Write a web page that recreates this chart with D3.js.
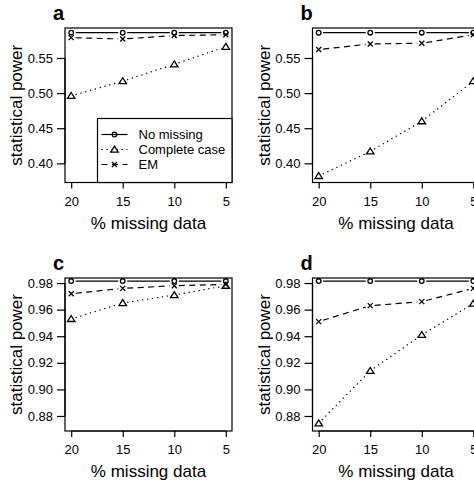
<!DOCTYPE html>
<html><head><meta charset="utf-8">
<script src="https://cdn.jsdelivr.net/npm/d3@7"></script>
<style>body{margin:0;background:#fff}svg{display:block}text{font-family:"Liberation Sans",Arial,Helvetica,sans-serif;fill:#000}</style>
</head><body>
<script>
const missing = [20, 15, 10, 5];
const seriesNames = ["No missing", "Complete case", "EM"];
const panelLabels = ["a", "b", "c", "d"];
const noMissA = [0.586, 0.586, 0.586, 0.586];
const ccA = [0.496, 0.517, 0.541, 0.566];
const emA = [0.579, 0.577, 0.582, 0.583];
const noMissB = [0.586, 0.586, 0.586, 0.586];
const ccB = [0.382, 0.417, 0.460, 0.517];
const emB = [0.562, 0.570, 0.571, 0.583];
const noMissC = [0.9815, 0.9815, 0.9815, 0.9815];
const ccC = [0.953, 0.965, 0.971, 0.978];
const emC = [0.972, 0.976, 0.978, 0.979];
const noMissD = [0.9815, 0.9815, 0.9815, 0.9815];
const ccD = [0.8745, 0.914, 0.941, 0.9645];
const emD = [0.951, 0.963, 0.966, 0.976];
const yTicksTop = [0.40, 0.45, 0.50, 0.55];
const yTicksBottom = [0.88, 0.90, 0.92, 0.94, 0.96, 0.98];
const yDomTop = [0.3727, 0.5927];
const yDomBottom = [0.8687, 0.9838];

const W = 474, H = 481;
const svg = d3.select("body").append("svg").attr("width", W).attr("height", H);

const panels = [
  {label: panelLabels[0], x0: 65, y0: 28, y1: 182.5, nm: noMissA, cc: ccA, em: emA, ticks: yTicksTop, dom: yDomTop, tOff: 46, legend: true},
  {label: panelLabels[1], x0: 312.5, y0: 28, y1: 182.5, nm: noMissB, cc: ccB, em: emB, ticks: yTicksTop, dom: yDomTop, tOff: 46},
  {label: panelLabels[2], x0: 65, y0: 278, y1: 431, nm: noMissC, cc: ccC, em: emC, ticks: yTicksBottom, dom: yDomBottom, tOff: 46},
  {label: panelLabels[3], x0: 312.5, y0: 278, y1: 431, nm: noMissD, cc: ccD, em: emD, ticks: yTicksBottom, dom: yDomBottom, tOff: 46}
];
const PW = 167;
const styles = [
  {dash: null, mark: "circle"},
  {dash: "1.3,3.7", mark: "triangle"},
  {dash: "6,4.5", mark: "x"}
];

function drawMarker(g, type, cx, cy) {
  if (type === "circle") {
    g.append("circle").attr("cx", cx).attr("cy", cy).attr("r", 2.3)
      .attr("fill", "none").attr("stroke", "#000").attr("stroke-width", 1.3);
  } else if (type === "triangle") {
    const s = 3.4;
    g.append("path").attr("d", `M${cx},${cy - s}L${cx + s * 1.1},${cy + s * 0.75}L${cx - s * 1.1},${cy + s * 0.75}Z`)
      .attr("fill", "none").attr("stroke", "#000").attr("stroke-width", 1.3);
  } else {
    const s = 2.5;
    g.append("path").attr("d", `M${cx - s},${cy - s}L${cx + s},${cy + s}M${cx - s},${cy + s}L${cx + s},${cy - s}`)
      .attr("fill", "none").attr("stroke", "#000").attr("stroke-width", 1.3);
  }
}

panels.forEach(p => {
  const g = svg.append("g");
  const x = d3.scaleLinear().domain([20.6, 4.4]).range([p.x0, p.x0 + PW]);
  const y = d3.scaleLinear().domain(p.dom).range([p.y1, p.y0]);
  g.append("rect").attr("x", p.x0).attr("y", p.y0).attr("width", PW).attr("height", p.y1 - p.y0)
    .attr("fill", "none").attr("stroke", "#000").attr("stroke-width", 1.2);
  const ax = g.append("g").attr("transform", `translate(0,${p.y1})`)
    .call(d3.axisBottom(x).tickValues(missing).tickSize(6).tickPadding(4).tickFormat(d3.format("d")));
  const ay = g.append("g").attr("transform", `translate(${p.x0},0)`)
    .call(d3.axisLeft(y).tickValues(p.ticks).tickSize(8).tickPadding(4).tickFormat(d3.format(".2f")));
  [ax, ay].forEach(a => {
    a.select(".domain").attr("stroke", "#000").attr("stroke-width", 1.2);
    a.selectAll(".tick line").attr("stroke", "#000").attr("stroke-width", 1.2);
    a.selectAll(".tick text").attr("fill", "#000").style("font-size", "13px")
      .style("font-family", '"Liberation Sans",Arial,sans-serif');
  });
  ax.select(".domain").attr("d", `M${x(20)},0H${x(5)}`);
  ay.select(".domain").attr("d", `M0,${y(p.ticks[0])}V${y(p.ticks[p.ticks.length - 1])}`);
  ax.selectAll(".tick text").attr("dy", null).attr("y", 23);
  g.append("text").attr("x", p.x0 + PW / 2).attr("y", p.y1 + p.tOff).attr("text-anchor", "middle")
    .style("font-size", "17px").text("% missing data");
  g.append("text").attr("transform", `translate(${p.x0 - 43},${(p.y0 + p.y1) / 2}) rotate(-90)`)
    .attr("text-anchor", "middle").style("font-size", "17px").text("statistical power");
  g.append("text").attr("x", p.x0 - 12).attr("y", p.y0 - 8).style("font-size", "20px")
    .style("font-weight", "bold").text(p.label);
  const sets = [p.nm, p.cc, p.em];
  sets.forEach((vals, si) => {
    const st = styles[si];
    const pts = vals.map((v, i) => [x(missing[i]), y(v)]);
    const gap = 4.5;
    for (let i = 0; i < pts.length - 1; i++) {
      const [xa, ya] = pts[i], [xb, yb] = pts[i + 1];
      const len = Math.hypot(xb - xa, yb - ya);
      const ux = (xb - xa) / len, uy = (yb - ya) / len;
      g.append("line").attr("x1", xa + ux * gap).attr("y1", ya + uy * gap)
        .attr("x2", xb - ux * gap).attr("y2", yb - uy * gap)
        .attr("stroke", "#000").attr("stroke-width", 1.2)
        .attr("stroke-dasharray", st.dash);
    }
    pts.forEach(pt => drawMarker(g, st.mark, pt[0], pt[1]));
  });
  if (p.legend) {
    const lx0 = 97.5, ly0 = 118.5;
    g.append("rect").attr("x", lx0).attr("y", ly0).attr("width", p.x0 + PW - lx0).attr("height", p.y1 - ly0)
      .attr("fill", "#fff").attr("stroke", "#000").attr("stroke-width", 1.2);
    seriesNames.forEach((name, i) => {
      const cy = ly0 + 16 + i * 15;
      g.append("line").attr("x1", lx0 + 4).attr("x2", lx0 + 30).attr("y1", cy).attr("y2", cy)
        .attr("stroke", "#000").attr("stroke-width", 1.2).attr("stroke-dasharray", styles[i].dash);
      drawMarker(g, styles[i].mark, lx0 + 17, cy);
      g.append("text").attr("x", lx0 + 41).attr("y", cy).attr("dy", "0.35em")
        .style("font-size", "13px").text(name);
    });
  }
});
</script>
</body></html>
